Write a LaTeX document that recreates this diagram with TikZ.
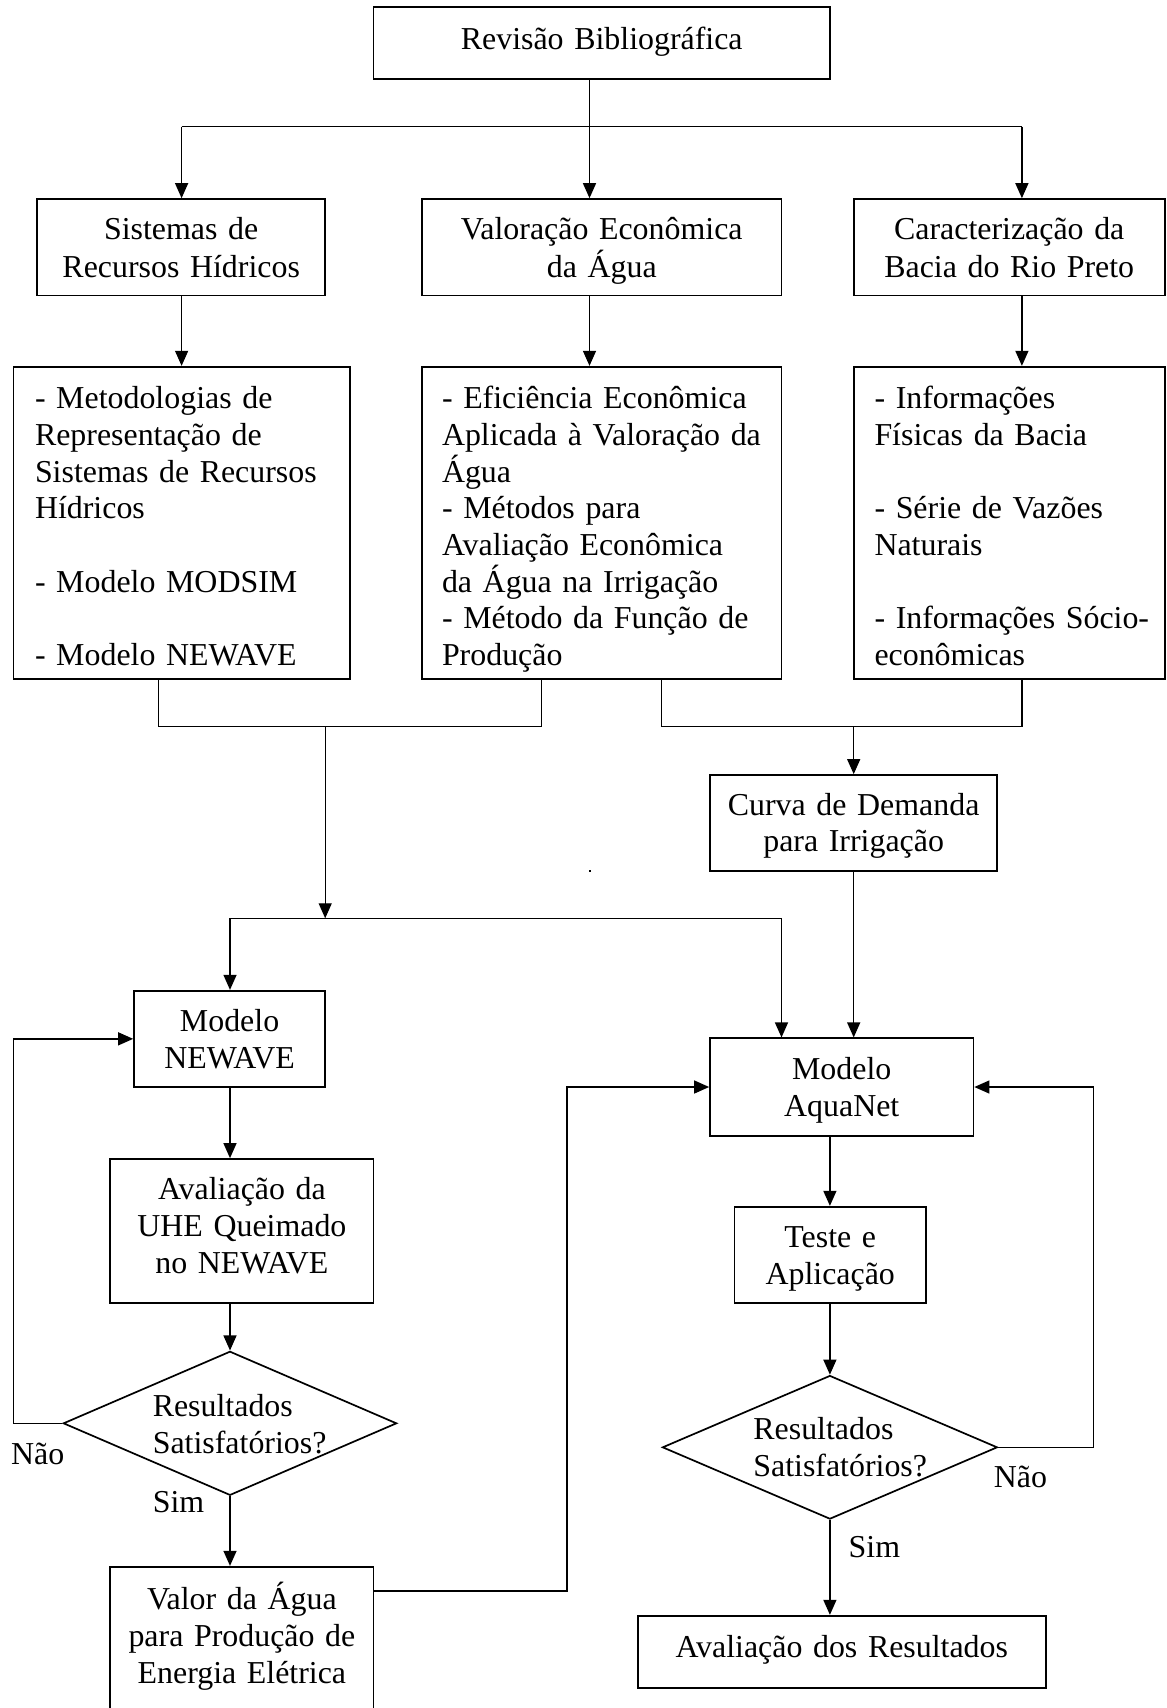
\documentclass[tikz,border=0pt]{standalone}
\usepackage{fontspec}
\setmainfont{Liberation Serif}
\usetikzlibrary{arrows.meta,shapes.geometric}
\newcommand\fsz{\fontsize{31.9}{36.7}\selectfont}
\newcommand\fszb{\fontsize{31.9}{38}\selectfont}
\begin{document}
\begin{tikzpicture}[x=1pt,y=-1pt,
  box/.style={draw,line width=1.7pt,inner sep=0pt,align=center,font=\fsz},
  lbox/.style={box,align=left},
  dia/.style={draw,diamond,line width=1.7pt,inner sep=0pt},
  txt/.style={inner sep=0pt,font=\fsz,align=left},
  arr/.style={-{Triangle[length=15pt,width=13pt]},line width=1.3pt},
  ln/.style={line width=1.3pt}]
\fill[white] (0,0) rectangle (1167,1708);
\useasboundingbox (0,0) rectangle (1167,1708);

% boxes
\node[box,minimum width=456.3pt,minimum height=72.3pt,text width=440pt,text height=12.9pt,text depth=0pt] (rev) at (601.75,42.85) {Revisão Bibliográfica};
\node[box,font=\fszb,minimum width=288pt,minimum height=96.3pt,text width=280pt,text height=0pt,text depth=16pt] (sis) at (181.2,247.2) {Sistemas de\\Recursos Hídricos};
\node[box,font=\fszb,minimum width=359.5pt,minimum height=96.3pt,text width=350pt,text height=0pt,text depth=16pt] (val) at (601.75,247.2) {Valoração Econômica\\da Água};
\node[box,font=\fszb,minimum width=311.1pt,minimum height=96.3pt,text width=305pt,text height=0pt,text depth=16pt] (car) at (1009.25,247.2) {Caracterização da\\Bacia do Rio Preto};

\node[lbox,minimum width=336.4pt,minimum height=312.6pt,text width=293.2pt,text height=0pt,text depth=228.6pt] (A) at (181.6,523)
 {\mbox{- Metodologias de}\\\mbox{Representação de}\\\mbox{Sistemas de Recursos}\\\mbox{Hídricos}\\\mbox{}\\\mbox{- Modelo MODSIM}\\\mbox{}\\\mbox{- Modelo NEWAVE}};
\node[lbox,minimum width=359.5pt,minimum height=312.6pt,text width=319.5pt,text height=0pt,text depth=228.6pt] (B) at (601.75,523)
 {\mbox{- Eficiência Econômica}\\\mbox{Aplicada à Valoração da}\\\mbox{Água}\\\mbox{- Métodos para}\\\mbox{Avaliação Econômica}\\\mbox{da Água na Irrigação}\\\mbox{- Método da Função de}\\\mbox{Produção}};
\node[lbox,minimum width=311.1pt,minimum height=312.6pt,text width=269.5pt,text height=0pt,text depth=228.6pt] (C) at (1009.25,523)
 {\mbox{- Informações}\\\mbox{Físicas da Bacia}\\\mbox{}\\\mbox{- Série de Vazões}\\\mbox{Naturais}\\\mbox{}\\\mbox{- Informações Sócio-}\\\mbox{econômicas}};

\node[box,minimum width=287.3pt,minimum height=96pt,text width=280pt,text height=0pt,text depth=16pt] (cur) at (853.65,823) {Curva de Demanda\\para Irrigação};
\node[box,minimum width=191.2pt,minimum height=96.3pt,text width=185pt,text height=0pt,text depth=15pt] (nw) at (229.6,1038.85) {Modelo\\NEWAVE};
\node[box,minimum width=263.5pt,minimum height=97.4pt,text width=255pt,text height=0pt,text depth=15pt] (aq) at (841.75,1087) {Modelo\\AquaNet};
\node[box,minimum width=263.4pt,minimum height=144.3pt,text width=255pt,text height=0pt,text depth=62.5pt] (uhe) at (241.9,1231.15) {Avaliação da\\UHE Queimado\\no NEWAVE};
\node[box,minimum width=191.3pt,minimum height=96.6pt,text width=185pt,text height=0pt,text depth=14.4pt] (te) at (830.25,1255) {Teste e\\Aplicação};
\node[dia,minimum width=333.4pt,minimum height=144pt] (dl) at (230,1423.3) {};
\node[dia,minimum width=335pt,minimum height=143.6pt] (dr) at (829.9,1447.3) {};
\node[txt,text width=190pt,anchor=base west] (tl) at (152.6,1416.7) {Resultados\\Satisfatórios?};
\node[txt,text width=190pt,anchor=base west] (tr) at (753.2,1439.4) {Resultados\\Satisfatórios?};
\node[box,minimum width=263.4pt,minimum height=146pt,text width=255pt,text height=0pt,text depth=59.8pt] (valor) at (241.9,1639.7) {Valor da Água\\para Produção de\\Energia Elétrica};
\node[box,minimum width=407.9pt,minimum height=72pt,text width=400pt,text height=11pt,text depth=0pt] (fin) at (841.75,1651.7) {Avaliação dos Resultados};

% labels
\node[txt,anchor=base west] (nao1) at (11,1464.5) {Não};
\node[txt,anchor=base west] (sim1) at (152.6,1512) {Sim};
\node[txt,anchor=base west] (nao2) at (993.6,1487) {Não};
\node[txt,anchor=base west] (sim2) at (848.5,1557.3) {Sim};

% stray dot
\fill (588.6,869.8) rectangle (590.6,871.8);

% junction coordinates
\coordinate (j1) at (589.5,126.7);
\coordinate (jl) at (181.6,126.7);
\coordinate (jr) at (1021.9,126.7);
\coordinate (m1) at (158.5,726.7);
\coordinate (m2) at (541.8,726.7);
\coordinate (m3) at (325.2,726.7);
\coordinate (m4) at (661.6,726.7);
\coordinate (m5) at (1021.9,726.7);
\coordinate (m6) at (853.7,726.7);
\coordinate (s1) at (325.2,918.3);
\coordinate (s2) at (230,918.3);
\coordinate (s3) at (781.5,918.3);
\coordinate (fl) at (13.4,0);
\coordinate (fr) at (1093.3,0);
\coordinate (vx) at (567.1,0);

% connectors
\draw[ln] (rev.south -| j1) -- (j1);
\draw[ln] (jl) -- (jr);
\draw[arr] (jl) -- (sis.north -| jl);
\draw[arr] (j1) -- (val.north -| j1);
\draw[arr] (jr) -- (car.north -| jr);
\draw[arr] (sis.south -| jl) -- (A.north -| jl);
\draw[arr] (val.south -| j1) -- (B.north -| j1);
\draw[arr] (car.south -| jr) -- (C.north -| jr);

\draw[ln] (A.south -| m1) -- (m1) -- (m2) -- (B.south -| m2);
\draw[ln] (B.south -| m4) -- (m4) -- (m5) -- (C.south -| m5);
\draw[arr] (m3) -- (s1);
\draw[arr] (m6) -- (cur.north -| m6);
\draw[ln] (s2) -- (s3);
\draw[arr] (s2) -- (nw.north -| s2);
\draw[arr] (s3) -- (aq.north -| s3);
\draw[arr] (cur.south -| m6) -- (aq.north -| m6);

\draw[arr] (nw.south -| s2) -- (uhe.north -| s2);
\draw[arr] (uhe.south -| dl.north) -- (dl.north);
\draw[arr] (dl.south) -- (valor.north -| dl.south);
\draw[arr] (dl.west) -| (fl |- nw.west) -- (nw.west);

\draw[arr] (aq.south -| dr.north) -- (te.north -| dr.north);
\draw[arr] (te.south -| dr.north) -- (dr.north);
\draw[arr] (dr.south) -- (fin.north -| dr.south);
\draw[arr] (dr.east) -| (fr |- aq.east) -- (aq.east);
\draw[arr] ([yshift=-25pt]valor.north east) -| (vx |- aq.west) -- (aq.west);
\end{tikzpicture}
\end{document}
